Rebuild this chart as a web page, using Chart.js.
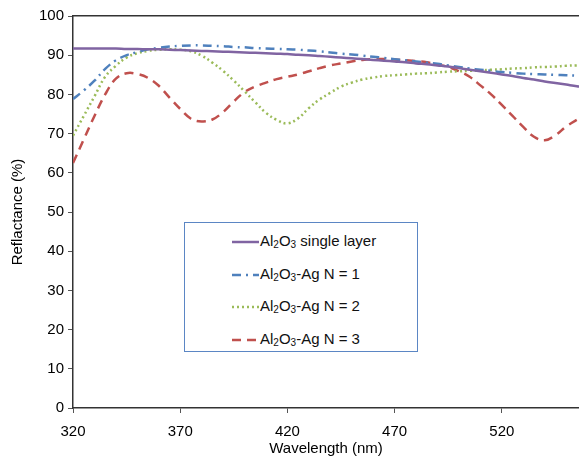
<!DOCTYPE html>
<html lang="en">
<head>
    <meta charset="UTF-8">
    <title>Reflectance</title>
    <script src="https://cdn.jsdelivr.net/npm/chart.js"></script>
    <style>
        body { margin: 0; background: #fff; font-family: "Liberation Sans", Arial, sans-serif; }
        .wrap { position: relative; width: 579px; height: 462px; }
        .legend {
            position: absolute; left: 184px; top: 222px; width: 232px; height: 128px;
            border: 1px solid #5b86c4; background: #fff;
        }
        .item { position: absolute; left: 47px; height: 20px; font-size: 15px; color: #111; white-space: nowrap; }
        .item svg { vertical-align: middle; margin-right: 1px; }
        .item sub { font-size: 10px; vertical-align: -2px; }
    </style>
</head>
<body>
    <div class="wrap">
        <canvas id="reflChart" width="579" height="462"></canvas>
        <div class="legend" id="legend"></div>
    </div>
    <script>
        const wavelengths = [320, 325, 330, 335, 340, 345, 350, 355, 360, 365, 370, 375, 380, 385, 390, 395,
            400, 405, 410, 415, 420, 425, 430, 435, 440, 445, 450, 455, 460, 465, 470, 475,
            480, 485, 490, 495, 500, 505, 510, 515, 520, 525, 530, 535, 540, 545, 550, 555, 560];

        const singleLayer = [91.7, 91.7, 91.7, 91.7, 91.7, 91.6, 91.6, 91.5, 91.5, 91.4, 91.3, 91.2, 91.1, 91.0, 90.9, 90.8,
            90.7, 90.6, 90.5, 90.4, 90.3, 90.1, 90.0, 89.8, 89.6, 89.4, 89.2, 89.0, 88.8, 88.6, 88.4, 88.2,
            87.9, 87.7, 87.4, 87.1, 86.7, 86.3, 85.9, 85.5, 85.1, 84.7, 84.2, 83.8, 83.3, 82.9, 82.5, 82.1, 81.8];

        const agN1 = [78.8, 81.0, 83.5, 86.5, 88.7, 90.0, 90.8, 91.5, 91.9, 92.2, 92.4, 92.5, 92.5, 92.4, 92.3, 92.1,
            92.0, 91.8, 91.7, 91.6, 91.5, 91.4, 91.2, 91.0, 90.7, 90.4, 90.2, 89.9, 89.6, 89.3, 89.0, 88.7,
            88.4, 88.1, 87.8, 87.4, 87.0, 86.6, 86.3, 86.0, 85.7, 85.5, 85.3, 85.2, 85.1, 85.0, 84.9, 84.8, 84.7];

        const agN2 = [69.5, 74.5, 79.5, 84.5, 87.3, 89.4, 90.5, 91.1, 91.4, 91.5, 91.4, 91.0, 89.9, 88.1, 86.0, 83.5,
            80.8, 78.0, 75.3, 73.5, 72.6, 73.9, 76.5, 78.7, 80.4, 82.0, 83.0, 83.8, 84.3, 84.7, 84.9, 85.1,
            85.3, 85.4, 85.6, 85.8, 85.9, 86.0, 86.1, 86.3, 86.4, 86.6, 86.7, 86.9, 87.0, 87.1, 87.3, 87.4, 87.5];

        const agN3 = [62.5, 68.5, 74.5, 80.0, 84.0, 85.4, 85.2, 84.2, 82.2, 79.2, 76.3, 73.8, 73.1, 73.6, 75.5, 78.2,
            80.6, 82.0, 83.0, 83.9, 84.5, 85.1, 85.9, 86.7, 87.4, 87.9, 88.4, 88.8, 89.0, 89.0, 88.9, 88.7,
            88.5, 88.2, 87.6, 87.0, 85.9, 84.5, 82.3, 80.0, 77.3, 74.5, 71.7, 69.2, 68.3, 69.6, 71.8, 73.5, 75.0];

        const xTicks = [320, 370, 420, 470, 520];
        const seriesNames = ['Al<sub>2</sub>O<sub>3</sub> single layer', 'Al<sub>2</sub>O<sub>3</sub>-Ag N = 1',
            'Al<sub>2</sub>O<sub>3</sub>-Ag N = 2', 'Al<sub>2</sub>O<sub>3</sub>-Ag N = 3'];
        const seriesLabels = ['Al₂O₃ single layer', 'Al₂O₃-Ag N = 1', 'Al₂O₃-Ag N = 2', 'Al₂O₃-Ag N = 3'];
        const colors = ['#8064a2', '#4f81bd', '#9bbb59', '#c0504d'];
        const dashes = [[], [9, 5, 2, 5], [2, 3], [9, 6]];
        const values = [singleLayer, agN1, agN2, agN3];

        const datasets = values.map((vals, i) => ({
            label: seriesLabels[i],
            data: wavelengths.map((w, j) => ({ x: w, y: vals[j] })),
            borderColor: colors[i],
            borderDash: dashes[i],
            borderWidth: 2.5,
            pointRadius: 0,
            tension: 0.4,
            fill: false
        }));

        const font = { family: '"Liberation Sans", Arial, sans-serif', size: 15 };

        new Chart(document.getElementById('reflChart').getContext('2d'), {
            type: 'line',
            data: { datasets: datasets },
            options: {
                responsive: false,
                animation: false,
                layout: { padding: { top: 8, right: 0, left: 7, bottom: 4 } },
                plugins: { legend: { display: false }, tooltip: { enabled: false } },
                scales: {
                    x: {
                        type: 'linear',
                        min: 320,
                        max: 556,
                        afterBuildTicks: (scale) => { scale.ticks = xTicks.map(v => ({ value: v })); },
                        ticks: { color: '#000', font: font, padding: 10, maxRotation: 0 },
                        grid: { display: true, drawOnChartArea: false, tickLength: 5, color: '#555' },
                        border: { color: '#333', width: 1.5 },
                        title: { display: true, text: 'Wavelength (nm)', color: '#000', font: font, padding: { top: -11, bottom: 0 } }
                    },
                    xTop: {
                        type: 'linear',
                        position: 'top',
                        min: 320,
                        max: 556,
                        ticks: { display: false },
                        grid: { display: false },
                        border: { color: '#333', width: 1.5 }
                    },
                    y: {
                        min: 0,
                        max: 100,
                        ticks: { stepSize: 10, color: '#000', font: font, padding: 4 },
                        grid: { display: true, drawOnChartArea: false, tickLength: 5, color: '#555' },
                        border: { color: '#333', width: 1.5 },
                        title: { display: true, text: 'Reflactance (%)', color: '#000', font: font, padding: { top: 2, bottom: 8 } }
                    }
                }
            }
        });

        // html legend with subscripts
        const legend = document.getElementById('legend');
        seriesNames.forEach((name, i) => {
            const item = document.createElement('div');
            item.className = 'item';
            item.style.top = (9 + i * 32.5) + 'px';
            item.innerHTML = `<svg width="27" height="6"><line x1="0" y1="3" x2="27" y2="3" stroke="${colors[i]}" stroke-width="2.5" stroke-dasharray="${dashes[i].join(' ') || 'none'}"/></svg>${name}`;
            legend.appendChild(item);
        });
    </script>
</body>
</html>
